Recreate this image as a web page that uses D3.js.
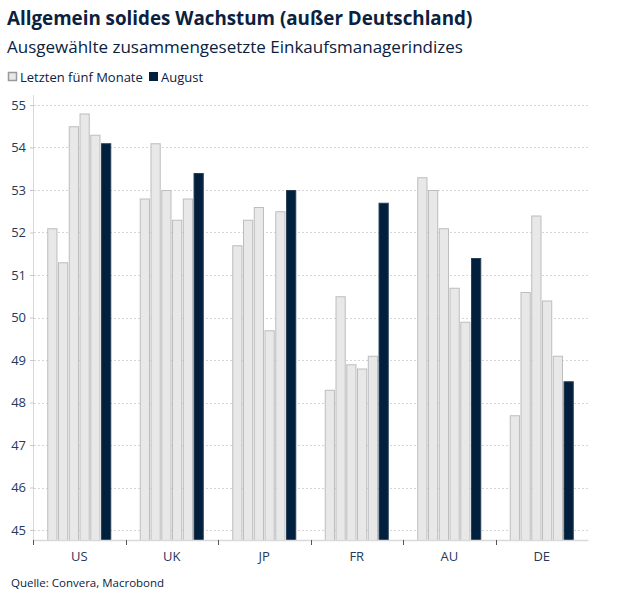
<!DOCTYPE html>
<html><head><meta charset="utf-8">
<script src="https://cdn.jsdelivr.net/npm/d3@7"></script>
<style>body{margin:0;background:#fff;} text{font-family:"Open Sans","Noto Sans",sans-serif;}</style>
</head><body>
<svg id="c" width="619" height="595"></svg>
<script>
const categories = ["US","UK","JP","FR","AU","DE"];
const month1 = [52.1, 52.8, 51.7, 48.3, 53.3, 47.7];
const month2 = [51.3, 54.1, 52.3, 50.5, 53.0, 50.6];
const month3 = [54.5, 53.0, 52.6, 48.9, 52.1, 52.4];
const month4 = [54.8, 52.3, 49.7, 48.8, 50.7, 50.4];
const month5 = [54.3, 52.8, 52.5, 49.1, 49.9, 49.1];
const august = [54.1, 53.4, 53.0, 52.7, 51.4, 48.5];
const yTicks = [45,46,47,48,49,50,51,52,53,54,55];
const seriesNames = ["m1","m2","m3","m4","m5","Aug"];
const seriesData = [month1, month2, month3, month4, month5, august];
const legendLabels = ["Letzten fünf Monate","August"];

const svg = d3.select("#c");
const navy = "#0a2240";
const m = {left:34, right:588, top:95, bottom:540};
const x = d3.scaleBand().domain(categories).range([m.left-1, m.right]).paddingInner(0).paddingOuter(0);
const y = d3.scaleLinear().domain([44.765, 55.235]).range([m.bottom, m.top]);
const xs = d3.scaleBand().domain(seriesNames).range([0, 64]).paddingInner(0.05);
const groupOffset = (x.bandwidth() - 64)/2;

// grid
svg.append("g").selectAll("line").data(yTicks).join("line")
  .attr("x1", m.left).attr("x2", m.right)
  .attr("y1", d=>Math.round(y(d))+0.5).attr("y2", d=>Math.round(y(d))+0.5)
  .attr("stroke","#d6d6d6").attr("stroke-dasharray","2,2");

// bars
const rows = [];
categories.forEach((c,i)=>seriesData.forEach((s,j)=>rows.push({c, k:seriesNames[j], v:s[i], last:j===5})));
svg.append("g").selectAll("rect").data(rows).join("rect")
  .attr("x", d=>x(d.c)+groupOffset+xs(d.k)+0.5)
  .attr("width", xs.bandwidth()-1)
  .attr("y", d=>y(d.v)+0.5)
  .attr("height", d=>m.bottom - y(d.v))
  .attr("fill", d=>d.last? "#00203d" : "#e8e8e8")
  .attr("stroke", d=>d.last? "#2a3e55" : "#bdbdbd")
  .attr("stroke-width",1);

// y axis
const ya = svg.append("g").attr("transform",`translate(${m.left},0)`)
  .call(d3.axisLeft(y).tickValues(yTicks).tickSize(4).tickPadding(4).tickFormat(d3.format("d")));
ya.select(".domain").attr("stroke","#d9d9d9").attr("d",`M-0.5,${m.top}V${m.bottom}`);
ya.selectAll(".tick line").attr("stroke","#c8c8c8");
ya.selectAll(".tick text").attr("fill","#243a5c").style("font-size","13px").style("font-family","'Open Sans',sans-serif");

// x axis
const xa = svg.append("g").attr("transform",`translate(0,${m.bottom})`)
  .call(d3.axisBottom(x).tickSize(0).tickPadding(12));
xa.select(".domain").attr("stroke","#d9d9d9").attr("stroke-width",1.5);
xa.selectAll(".tick text").attr("fill","#243a5c").style("font-size","13px").style("font-family","'Open Sans',sans-serif");
const bounds = categories.map(c=>x(c)).concat([m.right]);
svg.append("g").selectAll("line").data(bounds.slice(0,6)).join("line")
  .attr("x1",d=>Math.round(d)+0.5).attr("x2",d=>Math.round(d)+0.5)
  .attr("y1",m.bottom).attr("y2",m.bottom+5).attr("stroke","#555");

// titles
svg.append("text").attr("x",7).attr("y",25).attr("fill",navy)
  .style("font-size","18.8px").style("font-weight","700").text("Allgemein solides Wachstum (außer Deutschland)");
svg.append("text").attr("x",7).attr("y",53).attr("fill",navy)
  .style("font-size","17px").text("Ausgewählte zusammengesetzte Einkaufsmanagerindizes");
// legend
const lg = svg.append("g").attr("transform","translate(8,72)");
lg.append("rect").attr("x",0.5).attr("y",0.5).attr("width",8).attr("height",8).attr("fill","#e8e8e8").attr("stroke","#999").attr("stroke-width",1.5);
lg.append("text").attr("x",12).attr("y",9.5).attr("fill",navy).style("font-size","13px").text(legendLabels[0]);
lg.append("rect").attr("x",141).attr("y",0).attr("width",9).attr("height",9).attr("fill","#00203d");
lg.append("text").attr("x",153).attr("y",9.5).attr("fill",navy).style("font-size","13px").text(legendLabels[1]);

svg.append("text").attr("x",11).attr("y",587).attr("fill",navy)
  .style("font-size","11.5px").text("Quelle: Convera, Macrobond");
</script>
</body></html>
